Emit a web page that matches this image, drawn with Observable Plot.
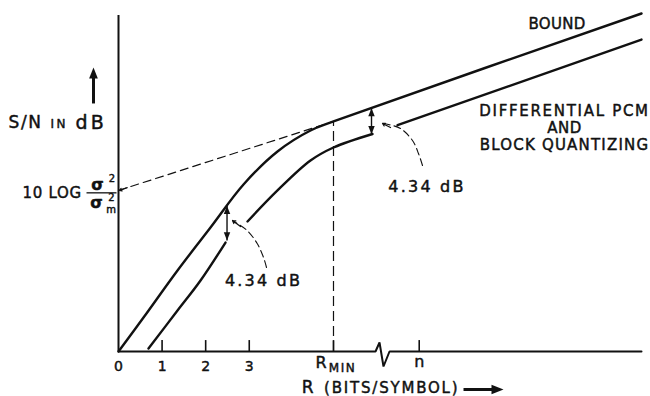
<!DOCTYPE html>
<html><head><meta charset="utf-8">
<script src="https://cdn.jsdelivr.net/npm/d3@7"></script>
<script src="https://cdn.jsdelivr.net/npm/@observablehq/plot@0.6"></script>
<style>
html,body{margin:0;padding:0;background:#fff;}
#chart svg{display:block;}
</style></head><body><div id="chart"></div>
<script>
// ---- data (R in bits/symbol, S/N in dB, arbitrary origin) ----
const boundR  = [0, 0.574, 1.354, 2.111, 2.868, 3.648, 4.405, 4.933, 12];
const boundSN = [0, 3.42, 8.15, 12.47, 16.80, 20.12, 22.23, 23.14, 34.0];
const dpcmR   = [0.688, 1.354, 1.882, 2.455, NaN, 2.960, 3.648, 4.405, 4.933, 5.828, NaN, 6.402, 12];
const dpcmSN  = [0.30, 4.12, 7.14, 10.96, NaN, 13.08, 16.20, 19.21, 20.52, 21.88, NaN, 22.76, 31.38];
const tangentR  = [0, 4.933];
const tangentSN = [16.2, 23.14];
const rMin = 4.933;
const nR = 6.9;
const digitTicks  = [0, 1, 2, 3];
const digitLabels = ["0", "1", "2", "3"];
const axisR  = [0, 5.897, 5.989, 6.080, 6.218, 12];
const axisSN = [0, 0, 0.905, -1.509, 0, 0];
const gapR      = [2.49, 5.805];
const gapTop    = [14.64, 24.48];
const gapBottom = [11.17, 21.86];
const gapLabel  = "4.34 dB";
const leaderLeftR   = [3.396, 3.327, 3.182, 2.953, 2.724, 2.616];
const leaderLeftSN  = [8.45, 9.46, 10.86, 12.17, 12.88, 13.18];
const leaderRightR  = [6.975, 6.883, 6.746, 6.470, 6.195, 6.058];
const leaderRightSN = [18.71, 19.92, 21.22, 22.43, 22.83, 22.94];

const ink = "#111";
const pts = (xs, ys) => xs.map((x, i) => ({x, y: ys[i]}));
function tri(dir) {
  return {draw(ctx, size) {
    const r = Math.sqrt(size / Math.PI), L = 2.4 * r, h = 0.95 * r;
    ctx.moveTo(0, 0);
    if (dir === "up")    { ctx.lineTo(h, L);  ctx.lineTo(-h, L); }
    if (dir === "down")  { ctx.lineTo(h, -L); ctx.lineTo(-h, -L); }
    if (dir === "right") { ctx.lineTo(-L, h); ctx.lineTo(-L, -h); }
    ctx.closePath();
  }};
}
const heavy = {stroke: ink, strokeWidth: 0.45, paintOrder: "stroke"};
const txt = (x, y, text, o = {}) => Plot.text([0], {x: () => x, y: () => y, text: () => text, fill: ink, fontSize: 15, ...heavy, ...o});

const svg = Plot.plot({
  width: 650, height: 396,
  marginLeft: 118, marginRight: 9, marginTop: 13, marginBottom: 45,
  x: {domain: [0, 12], axis: null},
  y: {domain: [0, 34], axis: null},
  style: {fontFamily: "DejaVu Sans", background: "#fff", color: ink},
  marks: [
    // axes
    Plot.ruleX([0], {y1: 0, y2: 33.8, stroke: ink, strokeWidth: 2}),
    Plot.line(pts(axisR, axisSN), {x: "x", y: "y", stroke: ink, strokeWidth: 2, strokeLinejoin: "miter"}),
    Plot.ruleX([1, 2, 3, rMin, nR], {x: d => d, y1: 0, y2: 1.1, stroke: ink, strokeWidth: 1.6}),
    Plot.text(digitTicks, {x: d => d, y: 0, text: (d, i) => digitLabels[i], dy: 15, fontSize: 14, fill: ink, ...heavy}),
    Plot.text([nR], {x: d => d, y: 0, text: ["n"], dy: 10, fontSize: 16, fill: ink, ...heavy}),
    Plot.text([rMin], {x: d => d - 0.287, y: 0, text: ["R"], dy: 11, fontSize: 16, fill: ink, ...heavy}),
    Plot.text([rMin], {x: d => d + 0.207, y: 0, text: ["MIN"], dy: 17, fontSize: 12, fill: ink, ...heavy}),
    // x axis title
    txt(4.340, -3.60, "R", {fontSize: 17}),
    txt(4.716, -3.72, "(BITS/SYMBOL)", {textAnchor: "start"}),
    Plot.link([0], {x1: 7.916, x2: 8.6, y1: -3.82, y2: -3.82, stroke: ink, strokeWidth: 3}),
    Plot.dot([0], {x: 8.834, y: -3.82, symbol: tri("right"), r: 5, fill: ink, stroke: "none"}),
    // y axis title
    txt(-2.524, 23.04, "S/N", {textAnchor: "start", fontSize: 17}),
    txt(-1.560, 22.83, "IN", {textAnchor: "start", fontSize: 12}),
    txt(-0.987, 23.04, "dB", {textAnchor: "start", fontSize: 19}),
    Plot.link([0], {x1: -0.574, x2: -0.574, y1: 24.95, y2: 27.9, stroke: ink, strokeWidth: 3}),
    Plot.dot([0], {x: -0.574, y: 28.57, symbol: tri("up"), r: 4.6, fill: ink, stroke: "none"}),
    // 10 log sigma^2 / sigma_m^2
    txt(-2.203, 15.89, "10 LOG", {textAnchor: "start"}),
    txt(-0.482, 16.75, "σ", {fontSize: 16, fontWeight: "bold"}),
    txt(-0.150, 17.35, "2", {fontSize: 10}),
    Plot.link([0], {x1: -0.734, x2: -0.046, y1: 15.96, y2: 15.96, stroke: ink, strokeWidth: 1.3}),
    txt(-0.505, 14.98, "σ", {fontSize: 16, fontWeight: "bold"}),
    txt(-0.160, 15.42, "2", {fontSize: 10}),
    txt(-0.172, 14.30, "m", {fontSize: 10}),
    // dashed construction lines
    Plot.line(pts(tangentR, tangentSN), {x: "x", y: "y", stroke: ink, strokeWidth: 1.2, strokeDasharray: "8,5"}),
    Plot.arrow([0], {x1: 0.2, y1: 16.48, x2: 0.02, y2: 16.2, stroke: ink, strokeWidth: 1.2, headLength: 7}),
    Plot.ruleX([rMin], {x: d => d, y1: 0, y2: 23.14, stroke: ink, strokeWidth: 1.2, strokeDasharray: "10,5"}),
    // curves
    Plot.line(pts(boundR, boundSN), {x: "x", y: "y", stroke: ink, strokeWidth: 2.4, curve: "catmull-rom"}),
    Plot.line(pts(dpcmR, dpcmSN), {x: "x", y: "y", stroke: ink, strokeWidth: 2.4, curve: "catmull-rom"}),
    // 4.34 dB gap arrows
    Plot.link(gapR, {x1: d => d, x2: d => d, y1: (d, i) => gapBottom[i], y2: (d, i) => gapTop[i], stroke: ink, strokeWidth: 1.4}),
    Plot.dot(gapR, {x: d => d, y: (d, i) => gapTop[i], symbol: tri("up"), r: 3.4, fill: ink, stroke: "none"}),
    Plot.dot(gapR, {x: d => d, y: (d, i) => gapBottom[i], symbol: tri("down"), r: 3.4, fill: ink, stroke: "none"}),
    Plot.line(pts(leaderLeftR, leaderLeftSN), {x: "x", y: "y", stroke: ink, strokeWidth: 1.1, strokeDasharray: "7,4", curve: "catmull-rom"}),
    Plot.line(pts(leaderRightR, leaderRightSN), {x: "x", y: "y", stroke: ink, strokeWidth: 1.1, strokeDasharray: "7,4", curve: "catmull-rom"}),
    Plot.arrow([0], {x1: 2.799, y1: 12.57, x2: 2.616, y2: 13.18, stroke: ink, strokeWidth: 1.2, headLength: 8}),
    Plot.arrow([0], {x1: 6.241, y1: 22.53, x2: 6.058, y2: 22.94, stroke: ink, strokeWidth: 1.2, headLength: 8}),
    txt(3.327, 7.14, gapLabel, {fontSize: 16}),
    txt(7.078, 16.60, gapLabel, {fontSize: 16}),
    // series labels
    txt(10.061, 32.94, "BOUND"),
    txt(10.233, 24.14, "DIFFERENTIAL PCM"),
    txt(10.233, 22.43, "AND"),
    txt(10.233, 20.72, "BLOCK QUANTIZING")
  ]
});

const spacing = {"BOUND": 0.3, "DIFFERENTIAL PCM": 1.7, "AND": 0.5, "BLOCK QUANTIZING": 1.2,
  "4.34 dB": 2.2, "10 LOG": 0.7, "S/N": 1.6, "IN": 2.5, "dB": 3.2, "(BITS/SYMBOL)": 1.8, "MIN": 1.5};
d3.select(svg).selectAll("text").each(function () {
  const t = this.textContent;
  if (spacing[t] != null) this.style.letterSpacing = spacing[t] + "px";
});
document.getElementById("chart").appendChild(svg);
</script>
</body></html>
